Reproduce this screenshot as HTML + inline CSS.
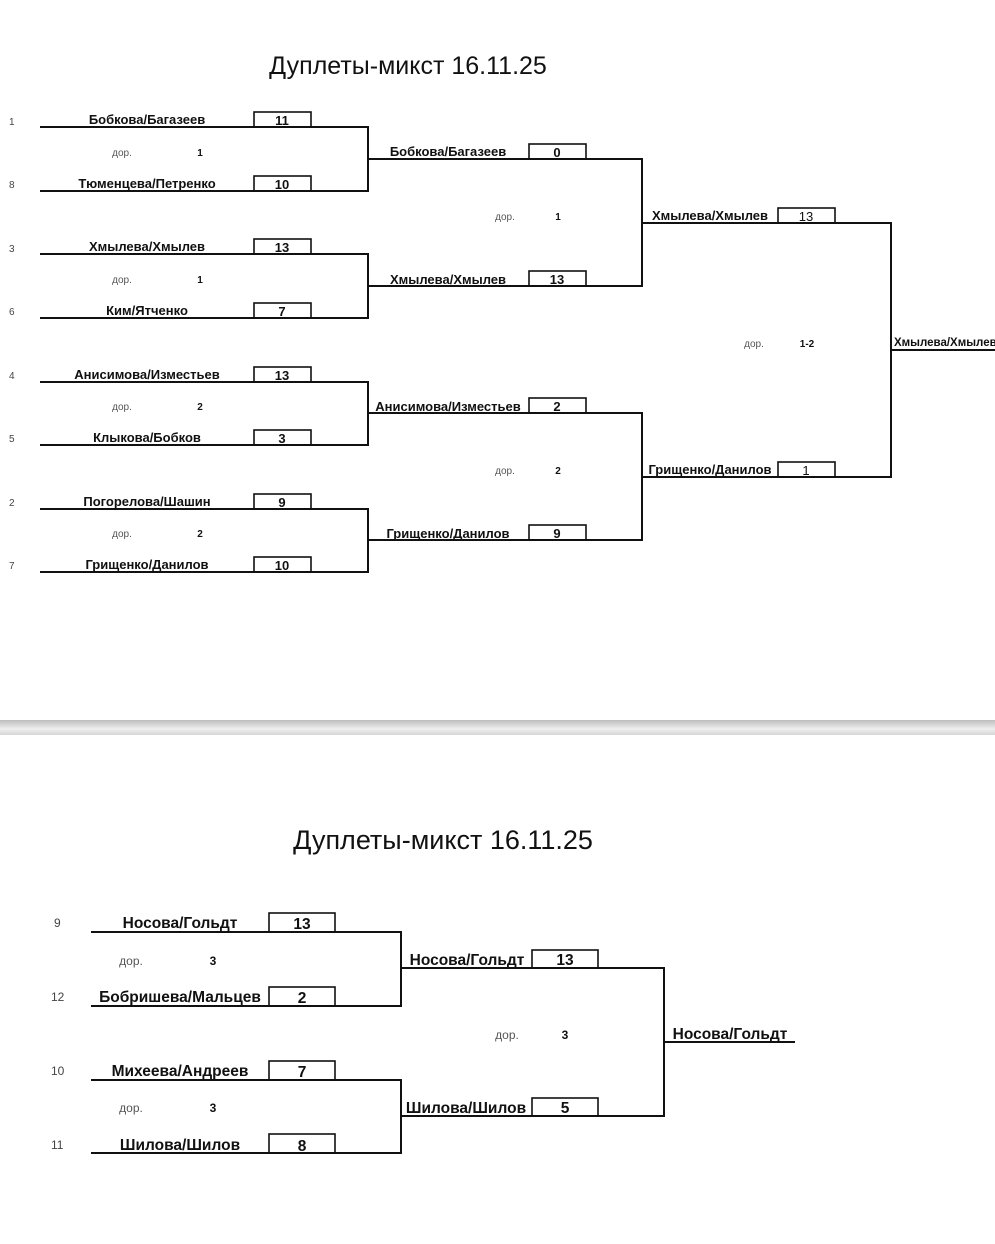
<!DOCTYPE html>
<html><head><meta charset="utf-8"><style>
html,body{margin:0;padding:0;background:#fff;width:995px;height:1244px;overflow:hidden}
svg{display:block}
text{font-family:"Liberation Sans","DejaVu Sans",sans-serif;fill:#111}
.n{font-weight:bold;font-size:13px;text-anchor:middle}
.N{font-weight:bold;font-size:15.5px;text-anchor:middle}
.s{font-size:10px;fill:#444}
.d{font-size:10px;fill:#555;text-anchor:middle}
.db{font-size:10px;font-weight:bold;text-anchor:middle}
.D{font-size:12px;fill:#555;text-anchor:middle}
.DB{font-size:12px;font-weight:bold;text-anchor:middle}
</style></head><body>
<svg width="995" height="1244" viewBox="0 0 995 1244" xmlns="http://www.w3.org/2000/svg">
<defs><linearGradient id="g" x1="0" y1="0" x2="0" y2="1"><stop offset="0" stop-color="#bdbdbd"/><stop offset="0.6" stop-color="#eeeeee"/><stop offset="1" stop-color="#d6d6d6"/></linearGradient></defs>
<rect x="0" y="720" width="995" height="15" fill="url(#g)"/>
<text x="408" y="74" style="font-size:25px;text-anchor:middle">Дуплеты-микст 16.11.25</text>
<g stroke="#111" stroke-width="2" fill="none">
<path d="M40 127H368V191H40M40 254H368V318H40M40 382H368V445H40M40 509H368V572H40"/>
<path d="M368 159H642V286H368M368 413H642V540H368"/>
<path d="M642 223H891V477H642M891 350H995"/>
<g stroke-width="1.6">
<rect x="254" y="112" width="57" height="15"/><rect x="254" y="176" width="57" height="15"/>
<rect x="254" y="239" width="57" height="15"/><rect x="254" y="303" width="57" height="15"/>
<rect x="254" y="367" width="57" height="15"/><rect x="254" y="430" width="57" height="15"/>
<rect x="254" y="494" width="57" height="15"/><rect x="254" y="557" width="57" height="15"/>
<rect x="529" y="144" width="57" height="15"/><rect x="529" y="271" width="57" height="15"/>
<rect x="529" y="398" width="57" height="15"/><rect x="529" y="525" width="57" height="15"/>
<rect x="778" y="208" width="57" height="15"/><rect x="778" y="462" width="57" height="15"/>
</g></g>
<g>
<text class="s" x="9" y="125">1</text><text class="s" x="9" y="188">8</text>
<text class="s" x="9" y="252">3</text><text class="s" x="9" y="315">6</text>
<text class="s" x="9" y="379">4</text><text class="s" x="9" y="442">5</text>
<text class="s" x="9" y="506">2</text><text class="s" x="9" y="569">7</text>
<text class="n" x="147" y="124">Бобкова/Багазеев</text><text class="n" x="282" y="125">11</text>
<text class="n" x="147" y="188">Тюменцева/Петренко</text><text class="n" x="282" y="189">10</text>
<text class="n" x="147" y="251">Хмылева/Хмылев</text><text class="n" x="282" y="252">13</text>
<text class="n" x="147" y="315">Ким/Ятченко</text><text class="n" x="282" y="316">7</text>
<text class="n" x="147" y="379">Анисимова/Изместьев</text><text class="n" x="282" y="380">13</text>
<text class="n" x="147" y="442">Клыкова/Бобков</text><text class="n" x="282" y="443">3</text>
<text class="n" x="147" y="506">Погорелова/Шашин</text><text class="n" x="282" y="507">9</text>
<text class="n" x="147" y="569">Грищенко/Данилов</text><text class="n" x="282" y="570">10</text>
<text class="d" x="122" y="156">дор.</text><text class="db" x="200" y="156">1</text>
<text class="d" x="122" y="283">дор.</text><text class="db" x="200" y="283">1</text>
<text class="d" x="122" y="410">дор.</text><text class="db" x="200" y="410">2</text>
<text class="d" x="122" y="537">дор.</text><text class="db" x="200" y="537">2</text>
<text class="n" x="448" y="156">Бобкова/Багазеев</text><text class="n" x="557" y="157">0</text>
<text class="n" x="448" y="284">Хмылева/Хмылев</text><text class="n" x="557" y="284">13</text>
<text class="n" x="448" y="411">Анисимова/Изместьев</text><text class="n" x="557" y="411">2</text>
<text class="n" x="448" y="538">Грищенко/Данилов</text><text class="n" x="557" y="538">9</text>
<text class="d" x="505" y="220">дор.</text><text class="db" x="558" y="220">1</text>
<text class="d" x="505" y="474">дор.</text><text class="db" x="558" y="474">2</text>
<text class="n" x="710" y="220">Хмылева/Хмылев</text><text x="806" y="221" style="font-size:13px;text-anchor:middle">13</text>
<text class="n" x="710" y="474">Грищенко/Данилов</text><text x="806" y="475" style="font-size:13px;text-anchor:middle">1</text>
<text class="d" x="754" y="347">дор.</text><text class="db" x="807" y="347">1-2</text>
<text x="894" y="346" style="font-size:11.5px;font-weight:bold">Хмылева/Хмылев</text>
</g>
<text x="443" y="849" style="font-size:27px;text-anchor:middle">Дуплеты-микст 16.11.25</text>
<g stroke="#111" stroke-width="2" fill="none">
<path d="M91 932H401V1006H91M91 1080H401V1153H91"/>
<path d="M401 968H664V1116H401M664 1042H795"/>
<g stroke-width="1.6">
<rect x="269" y="913" width="66" height="19"/><rect x="269" y="987" width="66" height="19"/>
<rect x="269" y="1061" width="66" height="19"/><rect x="269" y="1134" width="66" height="19"/>
<rect x="532" y="950" width="66" height="18"/><rect x="532" y="1098" width="66" height="18"/>
</g></g>
<g>
<text class="s" x="54" y="927" style="font-size:12px">9</text><text class="s" x="51" y="1001" style="font-size:12px">12</text>
<text class="s" x="51" y="1075" style="font-size:12px">10</text><text class="s" x="51" y="1149" style="font-size:12px">11</text>
<text class="N" x="180" y="928">Носова/Гольдт</text><text class="N" x="302" y="929">13</text>
<text class="N" x="180" y="1002">Бобришева/Мальцев</text><text class="N" x="302" y="1003">2</text>
<text class="N" x="180" y="1076">Михеева/Андреев</text><text class="N" x="302" y="1077">7</text>
<text class="N" x="180" y="1150">Шилова/Шилов</text><text class="N" x="302" y="1151">8</text>
<text class="D" x="131" y="965">дор.</text><text class="DB" x="213" y="965">3</text>
<text class="D" x="131" y="1112">дор.</text><text class="DB" x="213" y="1112">3</text>
<text class="N" x="467" y="965">Носова/Гольдт</text><text class="N" x="565" y="965">13</text>
<text class="N" x="466" y="1113">Шилова/Шилов</text><text class="N" x="565" y="1113">5</text>
<text class="D" x="507" y="1039">дор.</text><text class="DB" x="565" y="1039">3</text>
<text class="N" x="730" y="1039">Носова/Гольдт</text>
</g>
</svg>
</body></html>
